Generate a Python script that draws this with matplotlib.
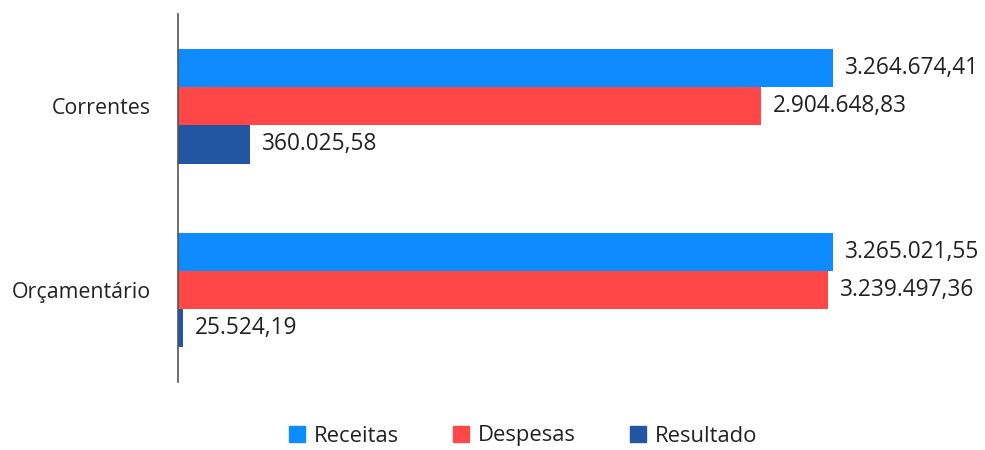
import matplotlib
matplotlib.use("Agg")
import matplotlib.pyplot as plt
import numpy as np
from matplotlib.patches import Patch

categories = ["Correntes", "Orçamentário"]
series_names = ["Receitas", "Despesas", "Resultado"]
receitas = [3264674.41, 3265021.55]
despesas = [2904648.83, 3239497.36]
resultado = [360025.58, 25524.19]
colors = ["#0d8bff", "#ff4747", "#2255a2"]

def fmt(v):
    s = f"{v:,.2f}"
    return s.replace(",", "X").replace(".", ",").replace("X", ".")

plt.rcParams['font.family'] = ['Open Sans', 'DejaVu Sans']
text_color = "#222222"

fig = plt.figure(figsize=(9.85, 4.5), dpi=100)
ax = fig.add_axes([178/985, 68/450, 807/985, 368/450])

n = len(series_names)
bh = 0.625 / n
y = np.arange(len(categories))
all_vals = [receitas, despesas, resultado]
for i, (name, vals, c) in enumerate(zip(series_names, all_vals, colors)):
    pos = y + (i - 1) * bh
    ax.barh(pos, vals, height=bh, color=c, label=name)
    for p, v in zip(pos, vals):
        ax.annotate(fmt(v), (v, p), xytext=(12, 0), textcoords="offset pixels",
                    va="center", ha="left", fontsize=16.3, color=text_color)

ax.set_ylim(len(categories) - 0.5, -0.5)
ax.set_xlim(0, 3265021.55 * 807 / 655)
ax.set_yticks(y)
ax.set_yticklabels(categories, fontsize=15.4, color=text_color)
ax.tick_params(axis="y", length=0, pad=19.5)
ax.set_xticks([])
for s in ["top", "right", "bottom"]:
    ax.spines[s].set_visible(False)
ax.spines["left"].set_color("#555555")
ax.spines["left"].set_linewidth(1.2)

handles = [Patch(color=c, label=nm) for nm, c in zip(series_names, colors)]
fig.legend(handles=handles, loc="center", bbox_to_anchor=(523/985, 14/450), ncol=3,
           frameon=False, fontsize=15.8, handlelength=0.7, handleheight=0.7,
           handletextpad=0.4, columnspacing=2.5, labelcolor=text_color,
           borderpad=0.1)

fig.savefig("out.png", dpi=100)
